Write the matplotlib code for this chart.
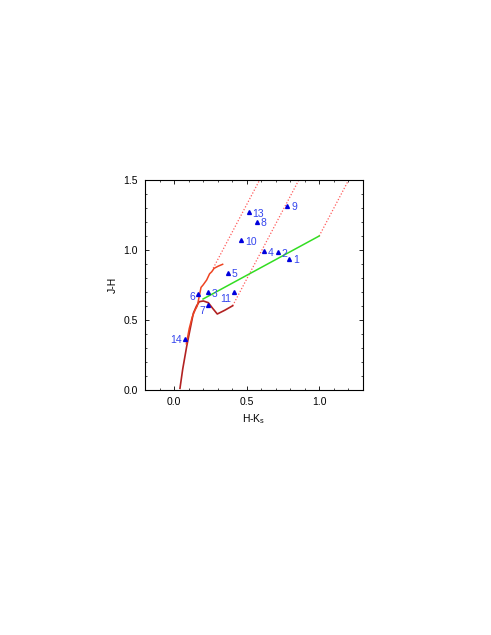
import numpy as np
import matplotlib.pyplot as plt
from matplotlib.ticker import MultipleLocator

plt.rcParams['font.family'] = ['Liberation Sans', 'DejaVu Sans']

# dwarf locus
dwarf_hk = [0.041, 0.06, 0.087, 0.11, 0.133, 0.155, 0.174, 0.202, 0.236, 0.265, 0.298, 0.35, 0.404]
dwarf_jh = [0.012, 0.15, 0.31, 0.43, 0.548, 0.60, 0.631, 0.636, 0.624, 0.585, 0.543, 0.57, 0.602]
# giant locus
giant_hk = [0.085, 0.105, 0.125, 0.145, 0.160, 0.170, 0.186, 0.200, 0.225, 0.245, 0.26, 0.276, 0.305, 0.335]
giant_jh = [0.33, 0.44, 0.52, 0.571, 0.600, 0.650, 0.733, 0.750, 0.786, 0.830, 0.845, 0.869, 0.885, 0.898]
# CTTS locus
ctts_hk = [0.2, 1.0]
ctts_jh = [0.65, 1.1]
# reddening vectors (start points), slope
red_start_hk = [0.27, 0.404, 1.0]
red_start_jh = [0.87, 0.602, 1.1]
red_slope = 1.97

# sources
src_id = ['1', '2', '3', '4', '5', '6', '7', '8', '9', '10', '11', '13', '14']
src_hk = [0.794, 0.714, 0.236, 0.622, 0.374, 0.167, 0.236, 0.572, 0.781, 0.464, 0.413, 0.517, 0.074]
src_jh = [0.938, 0.983, 0.698, 0.990, 0.836, 0.686, 0.607, 1.202, 1.314, 1.069, 0.698, 1.269, 0.364]
left_labels = {'6': (-0.02, -0.02), '7': (-0.022, -0.045), '11': (-0.022, -0.05), '14': (-0.02, -0.01)}

fig = plt.figure(figsize=(4.91, 6.35), dpi=100)
ax = fig.add_axes([0.2953, 0.3858, 0.4434, 0.3307])

for x0, y0 in zip(red_start_hk, red_start_jh):
    x1 = x0 + (1.6 - y0) / red_slope
    ax.plot([x0, x1], [y0, 1.6], color='#ff5a5a', ls=(0, (1, 1.5)), lw=0.9)

ax.plot(ctts_hk, ctts_jh, color='#33dd22', lw=1.1)
ax.plot(dwarf_hk, dwarf_jh, color='#b22222', lw=1.2)
ax.plot(giant_hk, giant_jh, color='#ee4422', lw=1.1)

ax.plot(src_hk, src_jh, '^', color='#0000dd', ms=2.8, ls='none')
for s, x, y in zip(src_id, src_hk, src_jh):
    if s in left_labels:
        dx, dy = left_labels[s]
        ax.text(x + dx, y + dy, s, color='#3344ee', fontsize=7.5, ha='right', va='center')
    else:
        ax.text(x + 0.025, y - 0.01, s, color='#3344ee', fontsize=7.5, ha='left', va='center')

ax.set_xlim(-0.2, 1.3)
ax.set_ylim(0.0, 1.5)
ax.xaxis.set_major_locator(MultipleLocator(0.5))
ax.xaxis.set_minor_locator(MultipleLocator(0.1))
ax.yaxis.set_major_locator(MultipleLocator(0.5))
ax.yaxis.set_minor_locator(MultipleLocator(0.1))
ax.xaxis.set_major_formatter(plt.FormatStrFormatter('%.1f'))
ax.yaxis.set_major_formatter(plt.FormatStrFormatter('%.1f'))
ax.tick_params(which='both', direction='in', top=True, right=True, labelsize=7.5, pad=5)
ax.tick_params(which='major', length=3, width=0.6)
ax.tick_params(which='minor', length=1.5, width=0.5)
for sp in ax.spines.values():
    sp.set_linewidth(0.8)

ax.set_xlabel('H-K$_\\mathregular{s}$', fontsize=7.5)
ax.set_ylabel('J-H', fontsize=7.5)

fig.savefig('out.png', dpi=100)
